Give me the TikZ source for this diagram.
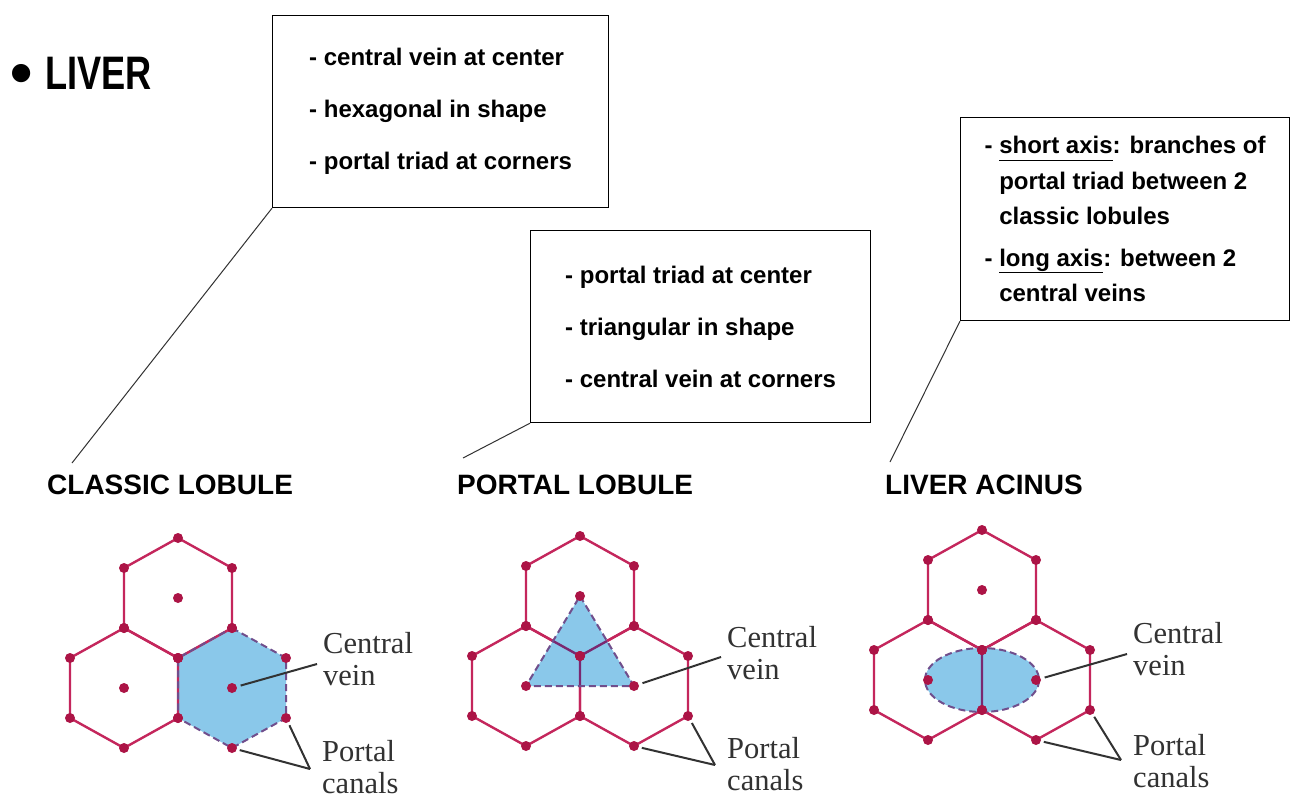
\documentclass[tikz,border=0pt]{standalone}
\usepackage{fontspec}
\setmainfont{Liberation Sans}
\newfontfamily\labelfont{Liberation Serif}
\usetikzlibrary{positioning, calc}

\definecolor{hexred}{RGB}{196,38,92}
\definecolor{dotred}{RGB}{172,20,70}
\definecolor{lobblue}{RGB}{138,200,234}
\definecolor{dashpurple}{RGB}{112,78,140}
\definecolor{innerpurple}{RGB}{122,40,112}
\definecolor{leadgray}{RGB}{50,50,50}

\newcommand{\axisul}[1]{\underline{#1\vphantom{g}}}

\tikzset{
  hexline/.style={hexred, line width=2.4pt, line join=round},
  innerline/.style={innerpurple, line width=2.4pt, line join=round},
  zoneedge/.style={dashpurple, line width=2pt, dash pattern=on 7pt off 4pt},
  zonefill/.style={fill=lobblue},
  veindot/.style={fill=dotred},
  leader/.style={leadgray, line width=2pt},
  infobox/.style={draw, line width=1.2pt, align=left, anchor=north west},
  heading/.style={font=\bfseries\fontsize{28}{30}\selectfont, anchor=base west, inner sep=0pt},
  vlabel/.style={leadgray, font=\labelfont\fontsize{30.5}{32}\selectfont, align=left, anchor=base west, inner sep=0pt}
}

\begin{document}
\begin{tikzpicture}[x=1pt, y=-1pt]
  \useasboundingbox (0,0) rectangle (1291,798);
  \fill[white] (0,0) rectangle (1291,798);

  % title
  \node[anchor=base west, inner sep=0pt, font=\bfseries\fontsize{47}{50}\selectfont] (title) at (10,89) {\raisebox{-5pt}{\scalebox{1.35}{•}}\hspace{13pt}\scalebox{0.77}[1]{LIVER}};

  % boxes
  \node[infobox, minimum width=336pt, minimum height=192pt, font=\bfseries\fontsize{24}{52}\selectfont] (classbox) at (272,15)
    {- central vein at center\\- hexagonal in shape\\- portal triad at corners};
  \node[infobox, minimum width=340pt, minimum height=192pt, font=\bfseries\fontsize{24}{52}\selectfont] (portbox) at (530,230)
    {- portal triad at center\\- triangular in shape\\- central vein at corners};
  \node[infobox, minimum width=329pt, minimum height=203pt, font=\bfseries\fontsize{24}{35.5}\selectfont] (acinbox) at (960,117)
    {- \axisul{short axis}: branches of\\\phantom{- }portal triad between 2\\\phantom{- }classic lobules\\[6pt]- \axisul{long axis}: between 2\\\phantom{- }central veins};

  % headings
  \node[heading] (clhead) at (47,494) {CLASSIC LOBULE};
  \node[heading] (plhead) at (457,494) {PORTAL LOBULE};
  \node[heading] (lahead) at (885,494) {LIVER ACINUS};
  \coordinate (cltip) at (72,463);
  \coordinate (pltip) at (463,458);
  \coordinate (latip) at (890,462);
  \draw[leadgray, line width=1pt] (classbox.south west) -- (cltip);
  \draw[leadgray, line width=1pt] (portbox.south west) -- (pltip);
  \draw[leadgray, line width=1pt] (acinbox.south west) -- (latip);

  % classic lobule
  \begin{scope}[shift={(178,598)}]
    \fill[zonefill] (54,30) -- (108,60) -- (108,120) -- (54,150) -- (0,120) -- (0,60) -- cycle;
    \foreach \hx/\hy in {0/0,-54/90}
      \draw[hexline, shift={(\hx,\hy)}] (0,-60) -- (54,-30) -- (54,30) -- (0,60) -- (-54,30) -- (-54,-30) -- cycle;
    \draw[zoneedge] (54,30) -- (108,60) -- (108,120) -- (54,150) -- (0,120) -- (0,60) -- cycle;
    \foreach \hx/\hy in {0/0,-54/90,54/90}
      \foreach \vx/\vy in {0/-60,54/-30,54/30,0/60,-54/30,-54/-30,0/0}
        \fill[veindot, shift={(\hx,\hy)}] (\vx,\vy) circle[radius=5];
    \coordinate (clvein) at (54,90);
    \coordinate (clcanalA) at (108,120);
    \coordinate (clcanalB) at (54,150);
  \end{scope}
  \node[vlabel] (clcv) at (323,685) {Central\\vein};
  \node[vlabel] (clpc) at (322,793) {Portal\\canals};
  \draw[leader, shorten <=9pt] (clvein) -- ($(clcv.base west)+(-6,-21)$);
  \draw[leader, shorten <=8pt] (clcanalA) -- ($(clpc.base west)+(-12,-24)$);
  \draw[leader, shorten <=8pt] (clcanalB) -- ($(clpc.base west)+(-12,-24)$);

  % portal lobule
  \begin{scope}[shift={(580,596)}]
    \foreach \hx/\hy in {0/0,-54/90,54/90}
      \draw[hexline, shift={(\hx,\hy)}] (0,-60) -- (54,-30) -- (54,30) -- (0,60) -- (-54,30) -- (-54,-30) -- cycle;
    \fill[zonefill] (0,0) -- (54,90) -- (-54,90) -- cycle;
    \begin{scope}
      \clip (0,0) -- (54,90) -- (-54,90) -- cycle;
      \draw[innerline] (-54,30) -- (0,60) -- (54,30) (0,60) -- (0,120);
    \end{scope}
    \draw[zoneedge] (0,0) -- (54,90) -- (-54,90) -- cycle;
    \foreach \hx/\hy in {0/0,-54/90,54/90}
      \foreach \vx/\vy in {0/-60,54/-30,54/30,0/60,-54/30,-54/-30,0/0}
        \fill[veindot, shift={(\hx,\hy)}] (\vx,\vy) circle[radius=5];
    \coordinate (plvein) at (54,90);
    \coordinate (plcanalA) at (108,120);
    \coordinate (plcanalB) at (54,150);
  \end{scope}
  \node[vlabel] (plcv) at (727,679) {Central\\vein};
  \node[vlabel] (plpc) at (727,790) {Portal\\canals};
  \draw[leader, shorten <=9pt] (plvein) -- ($(plcv.base west)+(-6,-22)$);
  \draw[leader, shorten <=8pt] (plcanalA) -- ($(plpc.base west)+(-12,-25)$);
  \draw[leader, shorten <=8pt] (plcanalB) -- ($(plpc.base west)+(-12,-25)$);

  % liver acinus
  \begin{scope}[shift={(982,590)}]
    \foreach \hx/\hy in {0/0,-54/90,54/90}
      \draw[hexline, shift={(\hx,\hy)}] (0,-60) -- (54,-30) -- (54,30) -- (0,60) -- (-54,30) -- (-54,-30) -- cycle;
    \fill[zonefill] (0,90) ellipse[x radius=57, y radius=32];
    \begin{scope}
      \clip (0,90) ellipse[x radius=57, y radius=32];
      \draw[innerline] (-54,30) -- (0,60) -- (54,30) (0,60) -- (0,120) (-54,150) -- (0,120) -- (54,150);
    \end{scope}
    \draw[zoneedge] (0,90) ellipse[x radius=57, y radius=32];
    \foreach \hx/\hy in {0/0,-54/90,54/90}
      \foreach \vx/\vy in {0/-60,54/-30,54/30,0/60,-54/30,-54/-30,0/0}
        \fill[veindot, shift={(\hx,\hy)}] (\vx,\vy) circle[radius=5];
    \coordinate (lavein) at (54,90);
    \coordinate (lacanalA) at (108,120);
    \coordinate (lacanalB) at (54,150);
  \end{scope}
  \node[vlabel] (lacv) at (1133,675) {Central\\vein};
  \node[vlabel] (lapc) at (1133,787) {Portal\\canals};
  \draw[leader, shorten <=9pt] (lavein) -- ($(lacv.base west)+(-6,-21)$);
  \draw[leader, shorten <=8pt] (lacanalA) -- ($(lapc.base west)+(-12,-27)$);
  \draw[leader, shorten <=8pt] (lacanalB) -- ($(lapc.base west)+(-12,-27)$);
\end{tikzpicture}
\end{document}
